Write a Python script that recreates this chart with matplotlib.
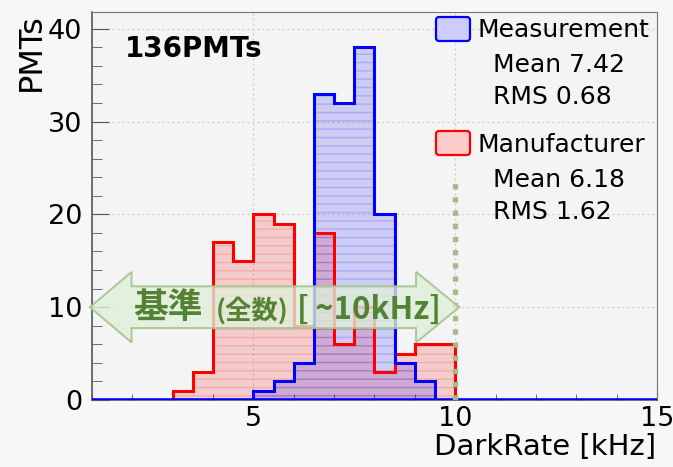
import numpy as np
import matplotlib
matplotlib.use("Agg")
import matplotlib.pyplot as plt
from matplotlib.patches import Polygon, FancyBboxPatch
from matplotlib.ticker import MultipleLocator
from matplotlib.transforms import Affine2D

# histogram contents, 0.5 kHz bins
meas_edges = [5.0, 5.5, 6.0, 6.5, 7.0, 7.5, 8.0, 8.5, 9.0, 9.5]
meas_counts = [1, 2, 4, 33, 32, 38, 20, 4, 2]
manu_edges = [3.0, 3.5, 4.0, 4.5, 5.0, 5.5, 6.0, 6.5, 7.0, 7.5, 8.0, 8.5, 9.0, 9.5, 10.0]
manu_counts = [1, 3, 17, 15, 20, 19, 8, 18, 6, 10, 3, 5, 6, 6]

names = ["Measurement", "Manufacturer"]
means = [7.42, 6.18]
rms = [0.68, 1.62]

n_pmts = 136
limit_khz = 10.0
limit_top = 23.4

W, H = 673, 467
fig = plt.figure(figsize=(W / 100, H / 100), dpi=100, facecolor="#f7f7f7")
# pixel coords of the picture (y downwards) -> display
pix = Affine2D().scale(1, -1).translate(0, H)

ax = fig.add_axes([92 / W, 1 - 400 / H, (657 - 92) / W, (400 - 12) / H])
ax.set_facecolor("#f4f4f4")
ax.set_xlim(1, 15)
ax.set_ylim(0, 41.8)

ax.grid(True, color="#c8c8c8", linestyle=(0, (1.5, 2.5)), linewidth=0.9)
ax.set_axisbelow(True)

# fills first, then red outline, then blue outline on top
ax.stairs(manu_counts, manu_edges, fill=True, facecolor=(1, 0, 0, 0.16),
          edgecolor=(1, 0, 0, 0.16), hatch="--", linewidth=0, zorder=2)
ax.stairs(meas_counts, meas_edges, fill=True, facecolor=(0, 0, 1, 0.16),
          edgecolor=(0, 0, 1, 0.16), hatch="--", linewidth=0, zorder=2)
ax.stairs(manu_counts, manu_edges, color="#ff0000", linewidth=2.2, baseline=0, zorder=3)
ax.stairs(meas_counts, meas_edges, color="#0000ff", linewidth=2.2, baseline=0, zorder=3)
ax.axhline(0, color="#0000ff", linewidth=2.6, zorder=3)

# spec limit line
ax.plot([limit_khz, limit_khz], [0, limit_top], color="#a3b98e",
        linewidth=3.8, linestyle=(0, (1, 1.5)), solid_capstyle="butt", zorder=4)

# double arrow annotation
yc = 10
x0, x1 = 0.95, 10.1
xl, xr = 1.98, 9.03
hh, bh = 3.8, 2.25
arrow = Polygon([(x0, yc), (xl, yc + hh), (xl, yc + bh), (xr, yc + bh), (xr, yc + hh),
                 (x1, yc), (xr, yc - hh), (xr, yc - bh), (xl, yc - bh), (xl, yc - hh)],
                closed=True, facecolor=(0.88, 0.94, 0.85, 0.78),
                edgecolor=(0.66, 0.77, 0.57, 0.9), linewidth=1.5, clip_on=False, zorder=5)
ax.add_patch(arrow)
green = "#548235"
cjk = ["Noto Sans CJK JP", "DejaVu Sans"]
fig.text(133, 318, "基準", transform=pix, fontsize=25, fontweight="bold",
         color=green, family=cjk, va="baseline", ha="left", zorder=6)
fig.text(216, 319, "(全数)", transform=pix, fontsize=19, fontweight="bold",
         color=green, family=cjk, va="baseline", ha="left", zorder=6)
fig.text(297, 319, "[\u2009~10kHz]", transform=pix, fontsize=22.5, fontweight="bold",
         color=green, family=cjk, va="baseline", ha="left", zorder=6)

# axes styling
for s in ["top", "right"]:
    ax.spines[s].set_color("#777777")
    ax.spines[s].set_linewidth(0.8)
for s in ["left", "bottom"]:
    ax.spines[s].set_color("#555555")
    ax.spines[s].set_linewidth(1.2)

ax.xaxis.set_major_locator(MultipleLocator(5))
ax.xaxis.set_minor_locator(MultipleLocator(1))
ax.yaxis.set_major_locator(MultipleLocator(10))
ax.yaxis.set_minor_locator(MultipleLocator(2))
ax.tick_params(axis="both", which="both", direction="in", colors="#555555",
               labelcolor="black", labelsize=19.5)
ax.tick_params(axis="x", which="major", length=8, pad=4)
ax.tick_params(axis="x", which="minor", length=4)
ax.tick_params(axis="y", which="major", length=12, pad=7)
ax.tick_params(axis="y", which="minor", length=7)

fig.text(40, 13, "PMTs", transform=pix, fontsize=23, rotation=90,
         rotation_mode="anchor", ha="right", va="baseline")
fig.text(656, 455, "DarkRate [kHz]", transform=pix, fontsize=21,
         ha="right", va="baseline")
fig.text(125, 57, f"{n_pmts}PMTs", transform=pix, fontsize=20,
         fontweight="bold", ha="left", va="baseline")

# legend
box_y = [17, 131]
colors = [("#0000ff", (0.8, 0.8, 1.0)), ("#ff0000", (1.0, 0.8, 0.8))]
base_y = [37, 152]
for i in range(2):
    edge, face = colors[i]
    fig.patches.append(FancyBboxPatch((436, H - box_y[i] - 24), 34, 24,
                                      boxstyle="round,pad=0,rounding_size=3",
                                      transform=None, facecolor=face,
                                      edgecolor=edge, linewidth=1.6))
    fig.text(478, base_y[i], names[i], transform=pix, fontsize=18, va="baseline")
    fig.text(493, base_y[i] + 35, f"Mean {means[i]:.2f}", transform=pix,
             fontsize=18, va="baseline")
    fig.text(493, base_y[i] + 67, f"RMS {rms[i]:.2f}", transform=pix,
             fontsize=18, va="baseline")

fig.savefig("out.png", dpi=100, facecolor=fig.get_facecolor())
